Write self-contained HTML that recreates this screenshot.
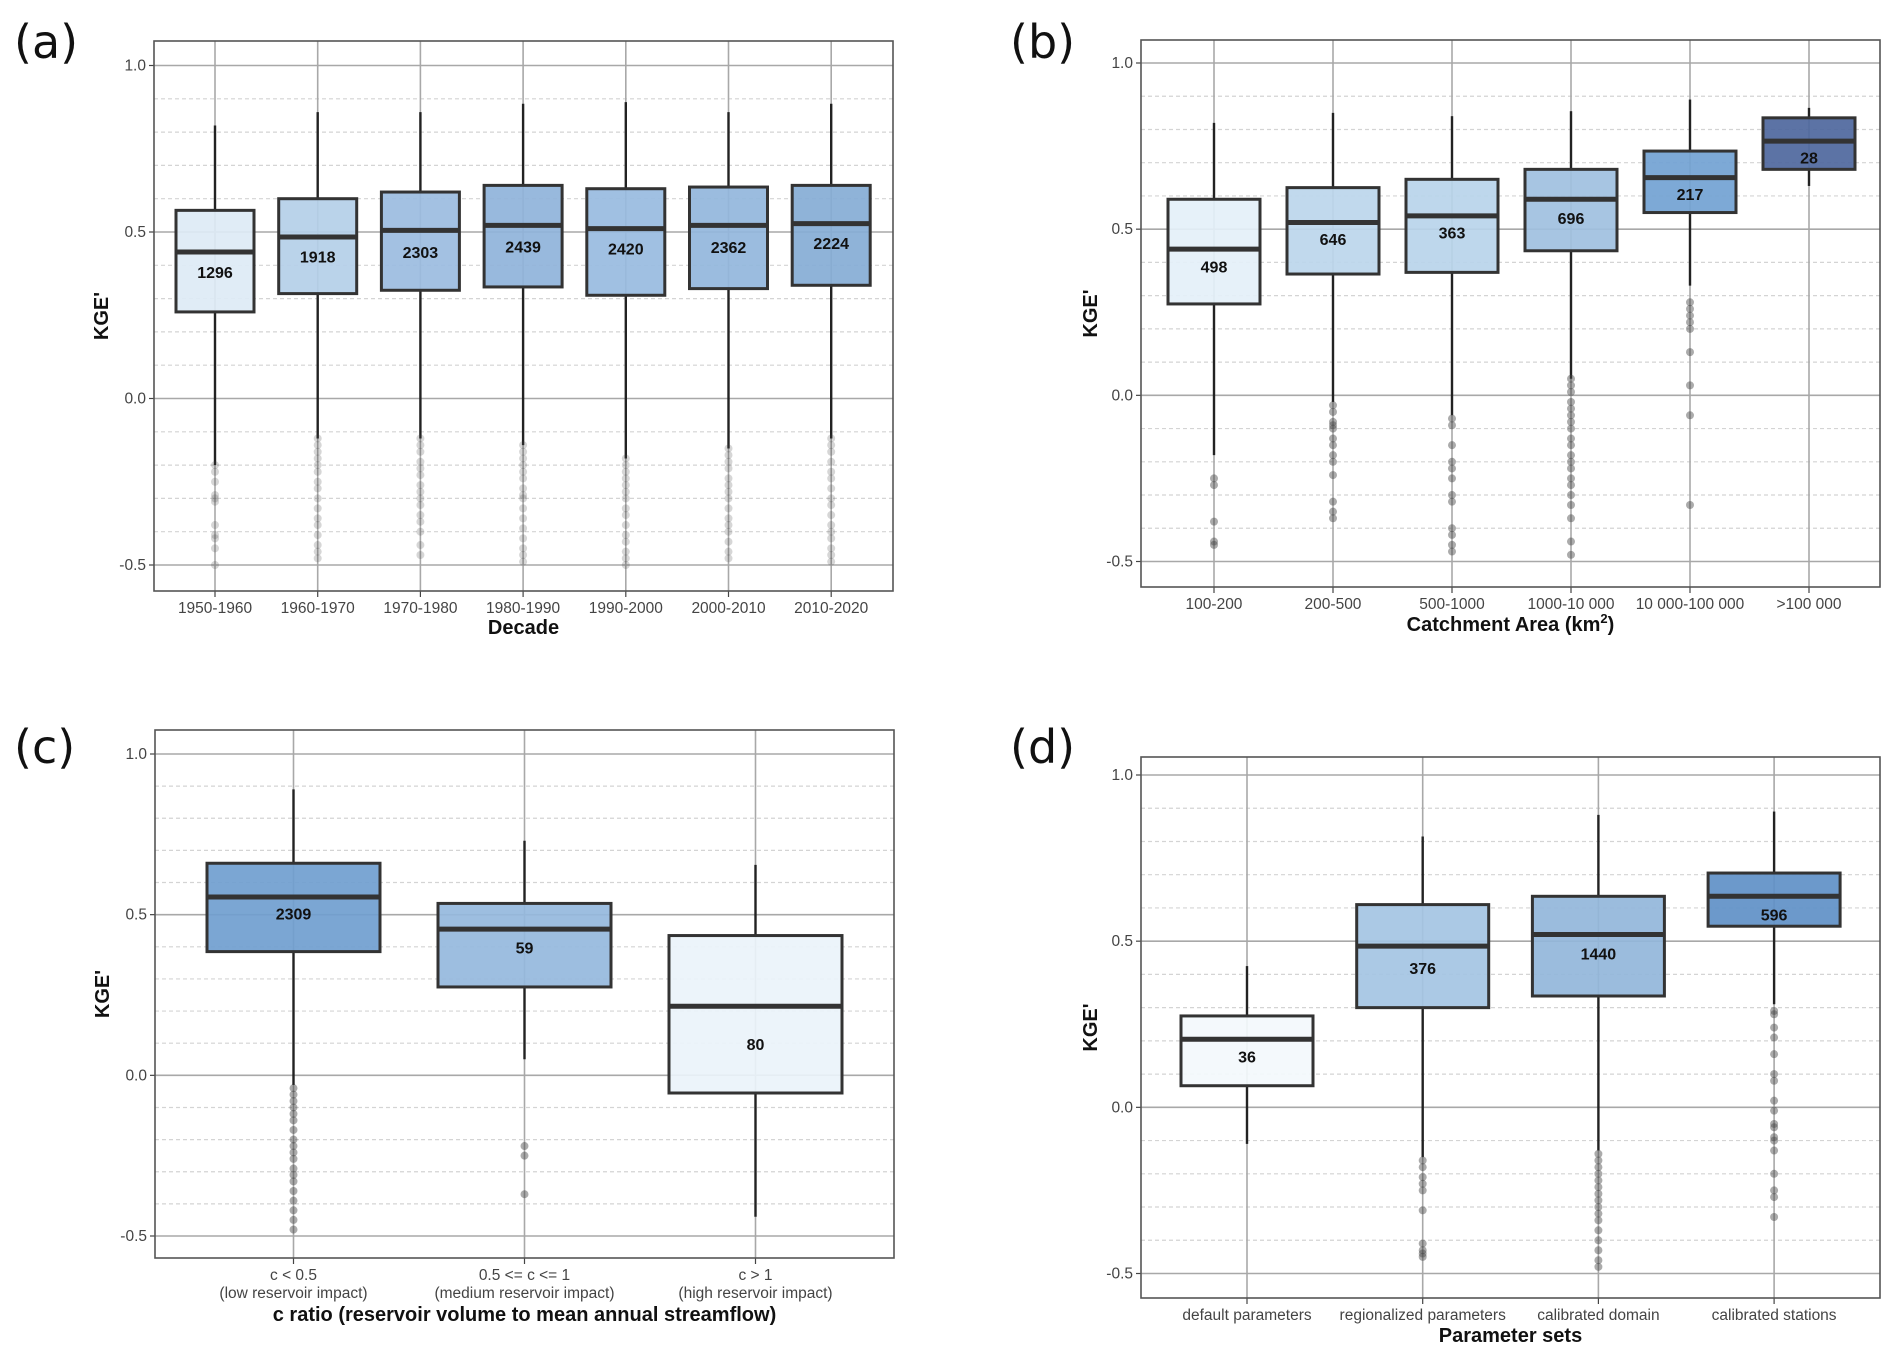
<!DOCTYPE html>
<html><head><meta charset="utf-8">
<style>
html,body{margin:0;padding:0;background:#fff;}
svg{display:block;font-family:"Liberation Sans",sans-serif;}
</style></head>
<body>
<svg id="fig" width="1892" height="1356" viewBox="0 0 1892 1356" xmlns="http://www.w3.org/2000/svg"></svg>
<script>
// ---------- Panel (a) data ----------
const categoriesA = ["1950-1960","1960-1970","1970-1980","1980-1990","1990-2000","2000-2010","2010-2020"];
const whiskerHighA = [0.82,0.86,0.86,0.885,0.89,0.86,0.885];
const q3A = [0.565,0.60,0.62,0.64,0.63,0.635,0.64];
const medianA = [0.44,0.485,0.505,0.52,0.51,0.52,0.525];
const q1A = [0.26,0.315,0.325,0.335,0.31,0.33,0.34];
const whiskerLowA = [-0.2,-0.12,-0.12,-0.14,-0.18,-0.15,-0.12];
const countsA = ["1296","1918","2303","2439","2420","2362","2224"];
const labelValA = [0.38,0.427,0.44,0.456,0.45,0.455,0.467];
const colorsA = ["#ddeaf5","#b4cfe8","#9bbcdf","#8fb3da","#98bbdf","#92b6dc","#86acd5"];
const outliersA = [
 [-0.2,-0.22,-0.25,-0.29,-0.3,-0.31,-0.38,-0.41,-0.42,-0.45,-0.5],
 [-0.12,-0.14,-0.16,-0.18,-0.2,-0.22,-0.25,-0.27,-0.3,-0.33,-0.36,-0.38,-0.41,-0.44,-0.46,-0.48],
 [-0.12,-0.14,-0.16,-0.19,-0.21,-0.23,-0.26,-0.28,-0.3,-0.32,-0.35,-0.37,-0.4,-0.44,-0.47],
 [-0.14,-0.16,-0.18,-0.2,-0.22,-0.24,-0.27,-0.29,-0.3,-0.33,-0.36,-0.39,-0.42,-0.45,-0.47,-0.49],
 [-0.18,-0.2,-0.22,-0.24,-0.26,-0.28,-0.3,-0.33,-0.35,-0.38,-0.41,-0.43,-0.46,-0.48,-0.5],
 [-0.15,-0.17,-0.19,-0.21,-0.24,-0.26,-0.28,-0.3,-0.33,-0.36,-0.38,-0.4,-0.43,-0.46,-0.48],
 [-0.12,-0.14,-0.16,-0.19,-0.22,-0.24,-0.27,-0.3,-0.32,-0.35,-0.38,-0.4,-0.42,-0.45,-0.47,-0.49]
];
// ---------- Panel (b) data ----------
const categoriesB = ["100-200","200-500","500-1000","1000-10 000","10 000-100 000",">100 000"];
const whiskerHighB = [0.82,0.85,0.84,0.855,0.89,0.865];
const q3B = [0.59,0.625,0.65,0.68,0.735,0.835];
const medianB = [0.44,0.52,0.54,0.59,0.655,0.765];
const q1B = [0.275,0.365,0.37,0.435,0.55,0.68];
const whiskerLowB = [-0.18,-0.02,-0.06,0.05,0.33,0.63];
const countsB = ["498","646","363","696","217","28"];
const labelValB = [0.387,0.47,0.49,0.533,0.606,0.715];
const colorsB = ["#e4f0f9","#bcd6ec","#b8d4ea","#9fc0e0","#72a2d3","#4e679d"];
const outliersB = [
 [-0.25,-0.27,-0.38,-0.44,-0.45],
 [-0.03,-0.05,-0.08,-0.09,-0.1,-0.13,-0.15,-0.18,-0.2,-0.24,-0.32,-0.35,-0.37],
 [-0.07,-0.09,-0.15,-0.2,-0.22,-0.25,-0.3,-0.32,-0.4,-0.42,-0.45,-0.47],
 [0.05,0.03,0.01,-0.02,-0.04,-0.06,-0.08,-0.1,-0.13,-0.15,-0.18,-0.2,-0.22,-0.25,-0.27,-0.3,-0.33,-0.37,-0.44,-0.48],
 [0.28,0.26,0.24,0.22,0.2,0.13,0.03,-0.06,-0.33],
 []
];
// ---------- Panel (c) data ----------
const categoriesC = [["c < 0.5","(low reservoir impact)"],["0.5 <= c <= 1","(medium reservoir impact)"],["c > 1","(high reservoir impact)"]];
const whiskerHighC = [0.89,0.73,0.655];
const q3C = [0.66,0.535,0.435];
const medianC = [0.555,0.455,0.215];
const q1C = [0.385,0.275,-0.055];
const whiskerLowC = [-0.03,0.05,-0.44];
const countsC = ["2309","59","80"];
const labelValC = [0.504,0.398,0.098];
const colorsC = ["#709ecf","#95b8dd","#eaf3fa"];
const outliersC = [
 [-0.04,-0.06,-0.08,-0.1,-0.12,-0.14,-0.17,-0.2,-0.22,-0.24,-0.26,-0.29,-0.31,-0.33,-0.36,-0.39,-0.42,-0.45,-0.48],
 [-0.22,-0.25,-0.37],
 []
];
// ---------- Panel (d) data ----------
const categoriesD = ["default parameters","regionalized parameters","calibrated domain","calibrated stations"];
const whiskerHighD = [0.425,0.815,0.88,0.89];
const q3D = [0.275,0.61,0.635,0.705];
const medianD = [0.205,0.485,0.52,0.635];
const q1D = [0.065,0.30,0.335,0.545];
const whiskerLowD = [-0.11,-0.15,-0.13,0.31];
const countsD = ["36","376","1440","596"];
const labelValD = [0.153,0.42,0.463,0.58];
const colorsD = ["#f3f8fc","#a4c4e3","#93b6da","#5f90c7"];
const outliersD = [
 [],
 [-0.16,-0.18,-0.21,-0.23,-0.25,-0.31,-0.41,-0.43,-0.44,-0.45],
 [-0.14,-0.16,-0.18,-0.2,-0.22,-0.24,-0.26,-0.28,-0.3,-0.32,-0.34,-0.37,-0.4,-0.43,-0.46,-0.48],
 [0.29,0.28,0.24,0.21,0.16,0.1,0.08,0.02,-0.01,-0.05,-0.06,-0.09,-0.1,-0.13,-0.2,-0.25,-0.27,-0.33]
];
const yTicks = [1.0,0.5,0.0,-0.5];
const yTickLabels = ["1.0","0.5","0.0","-0.5"];

const NS = "http://www.w3.org/2000/svg";
const svg = document.getElementById("fig");
function mk(tag, attrs, parent){
  const e = document.createElementNS(NS, tag);
  for (const k in attrs) e.setAttribute(k, attrs[k]);
  (parent||svg).appendChild(e);
  return e;
}

function panel(p){
  const g = mk("g", {});
  
  
  const y = v => p.y1 + (1.0 - v) * (p.yn - p.y1) / 1.5;
  const n = p.cats.length;
  const x = i => p.cx0 + i * p.step;
  // panel letter
  const pl = mk("text", {x:p.lx, y:p.ly, "font-size":46, fill:"#111", "font-family":"DejaVu Sans, Liberation Sans, sans-serif"}, g);
  pl.textContent = "(" + p.id + ")";
  
  
  // minor dashed grid
  for (let v = 0.9; v > -0.55; v -= 0.1) {
    const r = Math.round(v*10)/10;
    if (Math.abs(r*2 - Math.round(r*2)) < 1e-6) continue;
    const l = mk("line", {x1:p.L, x2:p.R, y1:y(r), y2:y(r), stroke:"#d4d4d4", "stroke-width":1.2, "stroke-dasharray":"4 3"}, g);
    
    
  }
  // major grid
  yTicks.forEach((v, k) => {
    const l = mk("line", {x1:p.L, x2:p.R, y1:y(v), y2:y(v), stroke:"#a8a8a8", "stroke-width":1.6}, g);
    
    
    const t = mk("text", {x:p.L-8, y:y(v)+5, "text-anchor":"end", "font-size":15.5, fill:"#444"}, g);
    t.textContent = yTickLabels[k];
    
    
    mk("line", {x1:p.L-5, x2:p.L, y1:y(v), y2:y(v), stroke:"#444", "stroke-width":1.2}, g);
  });
  for (let i = 0; i < n; i++) {
    const l = mk("line", {x1:x(i), x2:x(i), y1:p.T, y2:p.B, stroke:"#a8a8a8", "stroke-width":1.6}, g);
    
    
    mk("line", {x1:x(i), x2:x(i), y1:p.B, y2:p.B+6, stroke:"#444", "stroke-width":1.2}, g);
  }
  // boxes
  for (let i = 0; i < n; i++) {
    const bg = mk("g", {}, g);
    
    
    const hw = p.bw/2;
    mk("line", {x1:x(i), x2:x(i), y1:y(p.hi[i]), y2:y(p.q3[i]), stroke:"#222", "stroke-width":2.4}, bg);
    mk("line", {x1:x(i), x2:x(i), y1:y(p.q1[i]), y2:y(p.lo[i]), stroke:"#222", "stroke-width":2.4}, bg);
    p.out[i].forEach(v => {
      const c = mk("circle", {cx:x(i), cy:y(v), r:4, fill:"#444", "fill-opacity":p.oa}, bg);
      
      
    });
    const r = mk("rect", {x:x(i)-hw, y:y(p.q3[i]), width:p.bw, height:y(p.q1[i])-y(p.q3[i]), fill:p.col[i], "fill-opacity":0.92, stroke:"#333", "stroke-width":3}, bg);
    
    
    const m = mk("line", {x1:x(i)-hw, x2:x(i)+hw, y1:y(p.med[i]), y2:y(p.med[i]), stroke:"#333", "stroke-width":5}, bg);
    
    
    const t = mk("text", {x:x(i), y:y(p.lab[i])+6, "text-anchor":"middle", "font-size":16, "font-weight":"bold", fill:"#111"}, bg);
    t.textContent = p.cnt[i];
    
    
    // x tick label
    const c = p.cats[i];
    const lines = Array.isArray(c) ? c : [c];
    lines.forEach((s, k) => {
      const tl = mk("text", {x:x(i), y:p.B+22+k*18, "text-anchor":"middle", "font-size":15.5, fill:"#444"}, g);
      tl.textContent = s;
      
      
    });
  }
  // frame
  const f = mk("rect", {x:p.L, y:p.T, width:p.R-p.L, height:p.B-p.T, fill:"none", stroke:"#555", "stroke-width":1.6}, g);
  
  
  // axis titles
  const xt = mk("text", {x:(p.L+p.R)/2, y:p.xty, "text-anchor":"middle", "font-size":20, "font-weight":"bold", fill:"#111"}, g);
  if (p.id === "b") {
    xt.textContent = "Catchment Area (km";
    const sup = mk("tspan", {"font-size":13, dy:-8}, xt); sup.textContent = "2";
    const cl = mk("tspan", {dy:8}, xt); cl.textContent = ")";
  } else xt.textContent = p.xtitle;
  
  
  const ym = (p.T+p.B)/2;
  const yt = mk("text", {x:p.ytx, y:ym, "text-anchor":"middle", "font-size":20, "font-weight":"bold", fill:"#111", transform:"rotate(-90 "+p.ytx+" "+ym+")"}, g);
  yt.textContent = "KGE'";
  
  
}

panel({id:"a", L:154, R:893, T:41, B:591, y1:65.5, yn:565, cx0:215, step:102.7, bw:78,
  cats:categoriesA, hi:whiskerHighA, q3:q3A, med:medianA, q1:q1A, lo:whiskerLowA, cnt:countsA, lab:labelValA, col:colorsA, out:outliersA, oa:0.22,
  lx:14, ly:58, xtitle:"Decade", xty:634, ytx:108});
panel({id:"b", L:1141, R:1880, T:40, B:587, y1:63, yn:561.5, cx0:1214, step:119, bw:92,
  cats:categoriesB, hi:whiskerHighB, q3:q3B, med:medianB, q1:q1B, lo:whiskerLowB, cnt:countsB, lab:labelValB, col:colorsB, out:outliersB, oa:0.45,
  lx:1010, ly:58, xtitle:"Catchment Area (km2)", xty:631, ytx:1097});
panel({id:"c", L:155, R:894, T:730, B:1258, y1:754, yn:1236, cx0:293.5, step:231, bw:173,
  cats:categoriesC, hi:whiskerHighC, q3:q3C, med:medianC, q1:q1C, lo:whiskerLowC, cnt:countsC, lab:labelValC, col:colorsC, out:outliersC, oa:0.45,
  lx:14, ly:763, xtitle:"c ratio (reservoir volume to mean annual streamflow)", xty:1321, ytx:109});
panel({id:"d", L:1141, R:1880, T:757, B:1298, y1:775, yn:1273.5, cx0:1247, step:175.7, bw:132,
  cats:categoriesD, hi:whiskerHighD, q3:q3D, med:medianD, q1:q1D, lo:whiskerLowD, cnt:countsD, lab:labelValD, col:colorsD, out:outliersD, oa:0.45,
  lx:1010, ly:763, xtitle:"Parameter sets", xty:1342, ytx:1097});
</script>
</body></html>
